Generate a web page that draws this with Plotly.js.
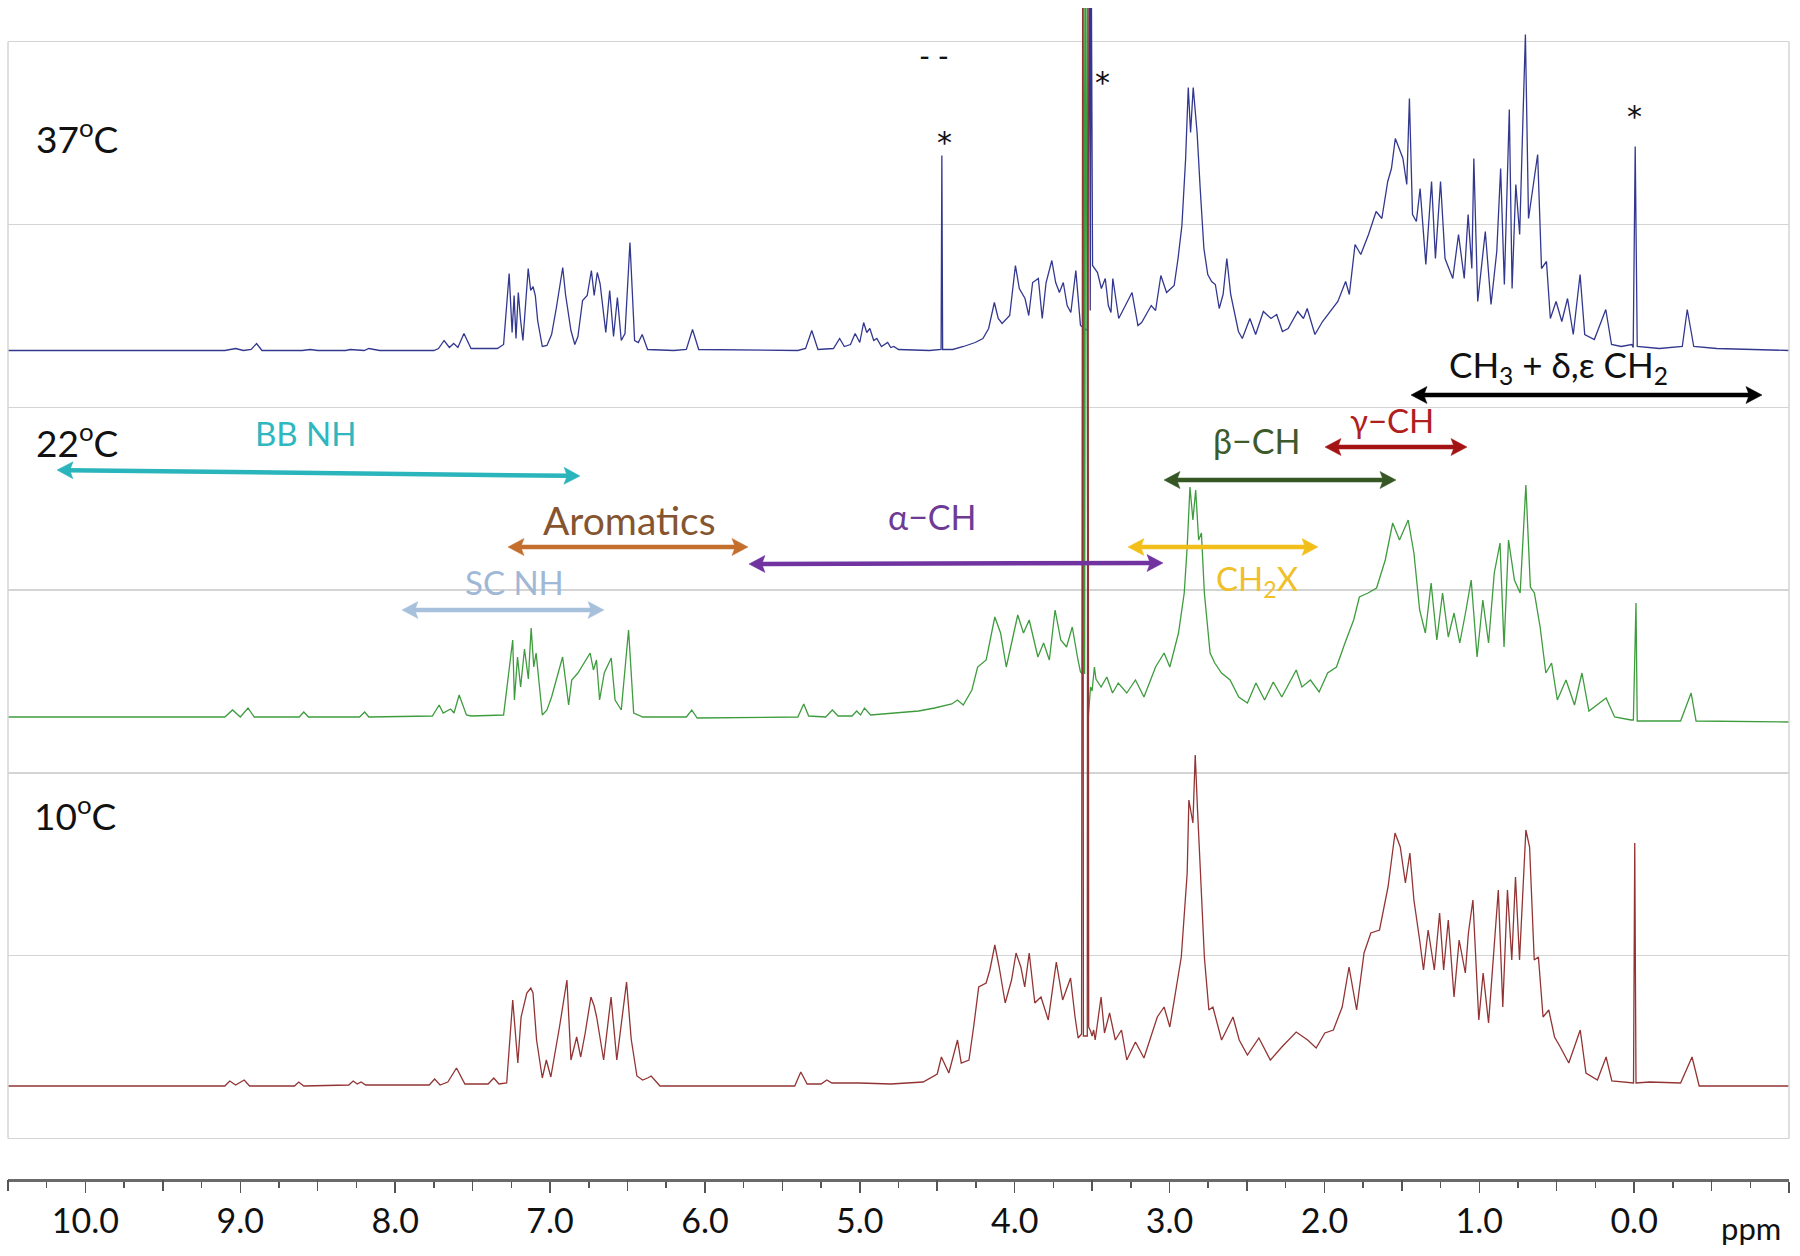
<!DOCTYPE html>
<html>
<head>
<meta charset="utf-8">
<script src="https://cdn.plot.ly/plotly-3.0.1.min.js"></script>
<style>html,body{margin:0;padding:0;background:#fff;} #chart{width:1800px;height:1256px;}</style>
</head>
<body>
<div id="chart"></div>
<script>
// ---------------- DATA (ppm, relative intensity above each baseline) ----------------
// The saturated solvent signal near 3.5 ppm is unresolved and runs off scale; it is listed as
// the few off-scale lines that make up the thick band in the picture.
const spectrum37 = [
[10.50,0],[9.10,0],[9.03,2],[8.98,0],[8.93,1],[8.895,7],[8.86,0],[8.60,0],[8.55,1],[8.50,0],[8.32,0],[8.29,1],[8.20,0],[8.17,2],[8.10,0],
[7.75,0],[7.72,2],[7.684,10],[7.65,3],[7.622,7],[7.595,3],[7.556,17],[7.51,2],[7.34,2],[7.30,6],[7.264,77],[7.245,18],[7.232,55],[7.22,12],
[7.205,58],[7.19,30],[7.175,10],[7.141,82],[7.125,60],[7.11,64],[7.095,55],[7.08,30],[7.05,4],[7.02,5],[6.99,16],[6.96,42],[6.918,83],
[6.90,56],[6.885,42],[6.865,20],[6.84,6],[6.82,14],[6.79,50],[6.76,55],[6.733,80],[6.715,55],[6.695,78],[6.677,67],[6.64,18],[6.615,60],
[6.59,14],[6.565,53],[6.54,10],[6.516,17],[6.484,108],[6.454,10],[6.43,8],[6.405,16],[6.37,1],[6.20,0],[6.12,1],[6.08,21],[6.04,1],
[5.40,0],[5.35,2],[5.31,20],[5.27,1],[5.17,2],[5.13,12],[5.10,4],[5.06,6],[5.03,17],[5.00,8],[4.975,28],[4.955,18],[4.935,22],[4.91,10],
[4.89,12],[4.86,4],[4.82,8],[4.80,3],[4.78,4],[4.75,1],[4.55,0],[4.475,1],[4.47,195],[4.465,1],[4.40,1],[4.33,4],[4.255,8],[4.205,12],
[4.168,22],[4.131,48],[4.106,32],[4.081,27],[4.032,35],[3.995,85],[3.970,62],[3.933,52],[3.909,35],[3.884,68],[3.847,72],[3.822,32],
[3.797,68],[3.760,90],[3.735,68],[3.711,58],[3.686,68],[3.661,45],[3.637,38],[3.605,80],[3.575,25],[3.55,22],[3.53,20],
[3.516,420],[3.512,40],[3.506,420],
[3.497,85],[3.465,78],[3.44,62],[3.415,72],[3.395,45],[3.378,38],[3.366,72],[3.328,32],[3.30,40],[3.242,58],[3.204,25],
[3.180,28],[3.118,45],[3.09,40],[3.056,75],[3.019,58],[2.970,65],[2.945,92],[2.920,125],[2.896,192],[2.879,263],[2.864,218],[2.847,263],
[2.822,218],[2.802,162],[2.778,102],[2.753,76],[2.728,69],[2.704,66],[2.679,42],[2.654,56],[2.630,92],[2.605,56],[2.555,19],[2.530,12],
[2.481,32],[2.444,16],[2.394,39],[2.345,32],[2.308,36],[2.271,19],[2.234,22],[2.172,39],[2.135,32],[2.111,42],[2.061,16],[2.012,29],
[1.962,39],[1.913,49],[1.863,69],[1.839,56],[1.802,106],[1.765,96],[1.715,116],[1.666,139],[1.629,132],[1.591,169],[1.567,182],
[1.542,212],[1.517,202],[1.493,192],[1.468,166],[1.451,252],[1.431,136],[1.406,129],[1.382,162],[1.345,86],[1.308,169],[1.283,92],
[1.250,169],[1.221,92],[1.171,72],[1.134,116],[1.097,72],[1.072,136],[1.048,82],[1.035,192],[1.010,49],[0.961,119],[0.924,46],
[0.887,99],[0.862,182],[0.838,66],[0.806,241],[0.788,62],[0.764,166],[0.739,116],[0.719,226],[0.702,316],[0.682,132],[0.653,162],
[0.623,196],[0.598,82],[0.566,89],[0.541,32],[0.504,49],[0.467,29],[0.430,52],[0.393,16],[0.349,76],[0.319,16],[0.257,11],[0.183,41],
[0.146,6],[0.084,4],[0.015,6],[0.006,3],[-0.007,204],[-0.020,4],[-0.163,2],[-0.311,4],[-0.343,41],[-0.385,4],[-0.534,2],[-1.00,0]
];
const spectrum22 = [
[10.50,2],[9.10,2],[9.05,9],[9.00,2],[8.95,11],[8.91,2],[8.62,2],[8.59,7],[8.56,2],[8.23,2],[8.197,7],[8.17,2],[7.76,3],[7.716,14],
[7.69,6],[7.642,10],[7.62,6],[7.587,24],[7.54,4],[7.51,3],[7.30,4],[7.241,79],[7.23,19],[7.21,62],[7.19,32],[7.165,70],[7.14,40],
[7.122,91],[7.105,52],[7.09,66],[7.05,4],[7.02,9],[6.99,22],[6.919,62],[6.90,39],[6.88,14],[6.86,39],[6.82,46],[6.741,66],[6.72,49],
[6.70,59],[6.68,19],[6.65,46],[6.605,61],[6.58,19],[6.54,9],[6.493,89],[6.46,6],[6.40,2],[6.12,2],[6.085,9],[6.05,1],[5.40,2],[5.362,15],
[5.33,3],[5.22,2],[5.177,9],[5.14,3],[5.05,3],[5.02,8],[4.995,4],[4.97,11],[4.93,4],[4.75,6],[4.62,8],[4.517,11],[4.406,15],[4.369,19],
[4.332,14],[4.276,29],[4.239,52],[4.184,59],[4.128,102],[4.091,86],[4.054,52],[3.980,104],[3.943,86],[3.906,99],[3.850,62],[3.813,76],
[3.776,59],[3.739,109],[3.702,79],[3.665,72],[3.628,92],[3.591,59],[3.575,47],[3.562,45],
[3.552,800],[3.548,45],[3.541,800],
[3.525,1],[3.51,32],[3.50,28],[3.485,52],[3.475,40],[3.46,36],[3.442,32],[3.405,42],[3.368,26],[3.331,36],[3.276,26],[3.220,39],[3.165,22],
[3.090,52],[3.035,66],[2.998,52],[2.942,86],
[2.905,126],[2.886,172],[2.868,232],[2.849,199],[2.831,229],[2.812,179],[2.794,186],[2.775,126],[2.738,66],[2.708,56],[2.664,46],
[2.609,39],[2.553,22],[2.497,16],[2.442,36],[2.386,19],[2.330,37],[2.275,22],[2.182,49],[2.145,32],[2.090,39],[2.034,27],[1.979,46],
[1.922,52],[1.867,76],[1.811,99],[1.774,122],[1.718,126],[1.663,131],[1.607,159],[1.559,196],[1.515,179],[1.459,199],[1.422,166],
[1.385,109],[1.348,86],[1.311,136],[1.274,79],[1.237,126],[1.200,82],[1.163,106],[1.126,76],[1.089,106],[1.052,139],[1.014,62],
[0.977,119],[0.940,76],[0.903,146],[0.866,176],[0.840,72],[0.811,179],[0.773,139],[0.736,126],[0.699,234],[0.670,132],[0.644,126],
[0.607,92],[0.570,46],[0.533,56],[0.496,19],[0.440,39],[0.385,14],[0.337,46],[0.292,8],[0.181,21],[0.126,2],[0.02,-1],[0.005,-1],
[-0.012,116],[-0.02,-2],[-0.30,-2],[-0.368,26],[-0.40,-2],[-1.0,-3]
];
const spectrum10 = [
[10.50,0],[9.10,0],[9.068,5],[9.03,1],[8.975,6],[8.94,0],[8.65,0],[8.623,4],[8.59,0],[8.30,1],[8.271,5],[8.245,2],[8.22,4],[8.19,1],
[7.78,1],[7.745,7],[7.71,1],[7.66,4],[7.604,18],[7.55,2],[7.40,2],[7.363,8],[7.33,2],[7.28,3],[7.241,86],[7.208,23],[7.187,69],[7.150,93],
[7.124,98],[7.11,93],[7.087,46],[7.050,8],[7.024,26],[6.995,9],[6.939,59],[6.891,106],[6.865,26],[6.828,49],[6.802,29],[6.773,53],
[6.736,89],[6.715,80],[6.699,69],[6.654,26],[6.606,89],[6.569,26],[6.506,104],[6.476,47],[6.439,10],[6.402,6],[6.370,8],[6.347,10],
[6.29,0],[5.42,0],[5.381,14],[5.34,2],[5.25,2],[5.213,6],[5.18,3],[5.0,3],[4.8,2],[4.65,3],[4.591,4],[4.50,12],[4.473,29],[4.425,13],
[4.369,46],[4.345,23],[4.295,26],[4.265,59],[4.232,99],[4.184,103],[4.16,116],[4.128,141],[4.10,119],[4.061,83],[4.02,106],[3.991,133],
[3.96,119],[3.935,99],[3.906,133],[3.87,83],[3.83,89],[3.783,66],[3.731,124],[3.69,86],[3.639,108],[3.61,69],[3.59,48],[3.568,52],
[3.560,1200],[3.556,50],[3.531,50],[3.527,1200],
[3.522,59],[3.51,55],[3.50,50],[3.49,56],[3.48,46],[3.442,89],[3.42,53],[3.387,73],[3.35,46],[3.31,56],[3.276,26],[3.220,44],
[3.165,28],[3.079,69],[3.035,79],[2.998,59],[2.924,129],[2.886,213],[2.875,286],[2.849,263],[2.834,331],[2.820,279],[2.794,189],
[2.775,129],[2.746,76],[2.720,79],[2.664,46],[2.590,69],[2.55,46],[2.497,31],[2.423,48],[2.349,26],[2.275,39],[2.182,54],[2.108,46],
[2.053,38],[1.997,53],[1.942,56],[1.885,79],[1.841,119],[1.792,76],[1.744,133],[1.700,153],[1.644,156],[1.589,199],[1.544,253],
[1.51,239],[1.477,203],[1.448,233],[1.422,186],[1.385,146],[1.36,116],[1.330,156],[1.29,116],[1.256,173],[1.23,116],[1.200,166],
[1.163,89],[1.13,146],[1.09,113],[1.070,153],[1.041,186],[1.003,66],[0.975,113],[0.940,63],[0.877,196],[0.848,79],[0.818,196],
[0.79,126],[0.766,209],[0.74,126],[0.699,256],[0.675,239],[0.645,126],[0.618,129],[0.588,69],[0.551,76],[0.514,49],[0.477,39],
[0.422,23],[0.348,56],[0.311,13],[0.237,6],[0.181,29],[0.144,5],[0.02,3],[0.004,3],[-0.004,243],[-0.012,3],[-0.10,4],[-0.30,3],
[-0.374,29],[-0.42,0],[-1.0,0]
];
const tempLabels = ["37<sup>o</sup>C", "22<sup>o</sup>C", "10<sup>o</sup>C"];
const regionLabels = ["BB NH","Aromatics","SC NH","α−CH","CH<sub>2</sub>X","β−CH","γ−CH","CH<sub>3</sub> + δ,ε CH<sub>2</sub>"];
const axisUnit = "ppm";

// ---------------- LAYOUT GEOMETRY ----------------
const W = 1800, H = 1256;
const PL = 8, PR = 1789, PT = 8, PB = 1179;
const FRAME_TOP = 41.7, FRAME_BOT = 1138.5;
const BAND = (FRAME_BOT - FRAME_TOP) / 6;
const BASE = {t37: 350.5, t22: 719, t10: 1086};
const XRANGE = [10.5, -1.0];
function px(x){ return (x - PL) / (PR - PL); }
function py(y){ return (PB - y) / (PB - PT); }
function rangeFor(b){ return [-(PB - b), (b - PT)]; }
const FONT = "Lato, 'Open Sans', sans-serif";

function trace(spec, axis, color, width){
  return {type:'scatter', mode:'lines', x: spec.map(p=>p[0]), y: spec.map(p=>p[1]),
    xaxis:'x', yaxis: axis, line:{color: color, width: width}, hoverinfo:'skip', showlegend:false};
}
const data = [
  {type:'scatter', mode:'lines', x:[], y:[], xaxis:'x', yaxis:'y', showlegend:false, hoverinfo:'skip'},
  {type:'scatter', mode:'lines', x:[], y:[], xaxis:'x2', yaxis:'y', showlegend:false, hoverinfo:'skip'},
  trace(spectrum37, 'y2', '#33388f', 1.3),
  trace(spectrum10, 'y4', '#933434', 1.3),
  trace(spectrum22, 'y3', '#3e9c3e', 1.3)
];

const annotations = [];
function label(text, cx, cy, size, color, anchor, family){
  annotations.push({xref:'paper', yref:'paper', x:px(cx), y:py(cy), text:text, showarrow:false,
    xanchor: anchor || 'center', yanchor:'middle', font:{family:family || FONT, size:size, color:color}});
}
const shapes = [
  {type:'line', xref:'paper', yref:'y', x0:0, x1:0, y0:0, y1:6, line:{color:'#d4d4d4', width:1.5}},
  {type:'line', xref:'paper', yref:'y', x0:1, x1:1, y0:0, y1:6, line:{color:'#d4d4d4', width:1.5}}
];
// double-headed arrow drawn as shapes (pixel endpoints -> paper coordinates)
function arrow(x1, y1, x2, y2, color){
  const L = 16, HW = 8.5, LW = 4.5;
  const dx = x2 - x1, dy = y2 - y1, len = Math.hypot(dx, dy);
  const ux = dx/len, uy = dy/len, nx = -uy, ny = ux;
  shapes.push({type:'line', xref:'paper', yref:'paper',
    x0:px(x1 + ux*L*0.7), y0:py(y1 + uy*L*0.7), x1:px(x2 - ux*L*0.7), y1:py(y2 - uy*L*0.7),
    line:{color:color, width:LW}});
  function head(tx, ty, sx, sy){
    const bx = tx - sx*L, by = ty - sy*L;
    const p = [[tx,ty],[bx + nx*HW, by + ny*HW],[tx - sx*L*0.8, ty - sy*L*0.8],[bx - nx*HW, by - ny*HW]];
    const d = 'M' + p.map(q => px(q[0]) + ',' + py(q[1])).join(' L') + ' Z';
    shapes.push({type:'path', xref:'paper', yref:'paper', path:d, fillcolor:color, line:{color:color, width:0.5}});
  }
  head(x2, y2, ux, uy);
  head(x1, y1, -ux, -uy);
}
// temperature labels
label(tempLabels[0], 34, 136, 37, '#111', 'left');
label(tempLabels[1], 34, 440, 37, '#111', 'left');
label(tempLabels[2], 32, 813, 37, '#111', 'left');
// region labels + arrows
label(regionLabels[0], 306, 433, 33, '#2fb7bf');
arrow(57, 470, 580, 476, '#2ab4bc');
label(regionLabels[1], 629, 520, 39, '#85552f');
arrow(508, 547, 748, 547, '#c46f2e');
label(regionLabels[2], 514, 582, 33, '#9fb8d6');
arrow(402, 610, 604, 610, '#a7c0dc');
label(regionLabels[3], 932, 516, 34, '#6d3b96');
arrow(749, 564, 1163, 563, '#7033a0');
label(regionLabels[4], 1257, 580, 33, '#f0bf2a');
arrow(1128, 547, 1318, 547, '#f2bf1a');
label(regionLabels[5], 1256, 440, 34, '#3d5a2b');
arrow(1164, 480, 1396, 480, '#375626');
label(regionLabels[6], 1392, 420, 33, '#b01f1f');
arrow(1325, 447, 1467, 447, '#a51414');
label(regionLabels[7], 1558, 367, 35, '#111');
arrow(1411, 395, 1762, 395, '#000');
// asterisks and marks
const STAR = "'DejaVu Sans', sans-serif";
label('*', 944, 142, 30, '#111', 'center', STAR);
label('*', 1102, 83, 30, '#111', 'center', STAR);
label('*', 1634, 117, 30, '#111', 'center', STAR);
label('- -', 934, 55, 30, '#111');
// axis unit
label(axisUnit, 1751, 1228, 31, '#111');

const hidden = {visible:false, showgrid:false, zeroline:false, overlaying:'y', fixedrange:true};
const layout = {
  width: W, height: H, margin:{l:PL, r:W-PR, t:PT, b:H-PB, pad:0},
  paper_bgcolor:'#fff', plot_bgcolor:'rgba(0,0,0,0)', showlegend:false, hovermode:false,
  xaxis:{range:XRANGE, tickmode:'linear', tick0:0, dtick:1, tickformat:'.1f',
    ticks:'outside', ticklen:11, tickwidth:1.5, tickcolor:'#555', showline:true, linecolor:'#6a6a6a', linewidth:2.5,
    showgrid:false, zeroline:false, tickfont:{family:FONT, size:34, color:'#111'},
    minor:{tickmode:'linear', tick0:0, dtick:0.25, ticks:'outside', ticklen:6, tickwidth:1.5, tickcolor:'#555', showgrid:false},
    fixedrange:true},
  xaxis2:{range:XRANGE, overlaying:'x', anchor:'y', side:'bottom', tickmode:'linear', tick0:0.5, dtick:1,
    ticks:'outside', ticklen:11, tickwidth:1.5, tickcolor:'#555', showline:false, showgrid:false, zeroline:false,
    showticklabels:false, fixedrange:true},
  yaxis:{range:[-(PB-FRAME_BOT)/BAND, (FRAME_BOT-PT)/BAND], tickmode:'linear', tick0:0, dtick:1,
    showgrid:true, gridcolor:'#d4d4d4', gridwidth:1.5, zeroline:false, showline:false, showticklabels:false, ticks:'', fixedrange:true},
  yaxis2: Object.assign({range: rangeFor(BASE.t37)}, hidden),
  yaxis3: Object.assign({range: rangeFor(BASE.t22)}, hidden),
  yaxis4: Object.assign({range: rangeFor(BASE.t10)}, hidden),
  annotations: annotations,
  shapes: shapes
};
Plotly.newPlot('chart', data, layout, {displayModeBar:false, staticPlot:true});
</script>
</body>
</html>
